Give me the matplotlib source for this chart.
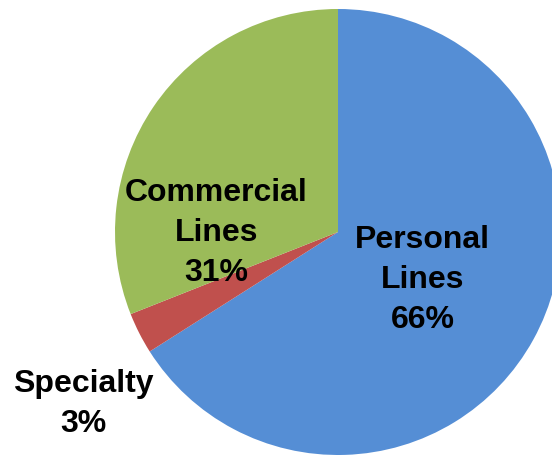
import matplotlib
matplotlib.use("Agg")
import matplotlib.pyplot as plt

# Premium mix by business line
categories = ["Personal\nLines", "Specialty", "Commercial\nLines"]
shares = [66, 3, 31]
colors = ["#558ED5", "#C0504D", "#9BBB59"]

# label anchor points (data coordinates, pie radius = 1)
label_pos = [(0.379, -0.211), (-1.143, -0.767), (-0.545, 0.0)]

fig = plt.figure(figsize=(5.52, 4.56), dpi=100)
ax = fig.add_axes([0, 0, 1, 1])

ax.pie(shares, colors=colors, startangle=90, counterclock=False,
       radius=1.0, wedgeprops=dict(linewidth=0))

for name, val, (x, y) in zip(categories, shares, label_pos):
    ax.text(x, y, f"{name}\n{val}%", ha="center", va="center",
            fontsize=23, fontweight="bold", family="Liberation Sans",
            linespacing=1.42, color="black")

ax.set_xlim(-338 / 223, (552 - 338) / 223)
ax.set_ylim(-(456 - 233) / 223, 233 / 223)
ax.axis("off")

fig.savefig("out.png", dpi=100)
